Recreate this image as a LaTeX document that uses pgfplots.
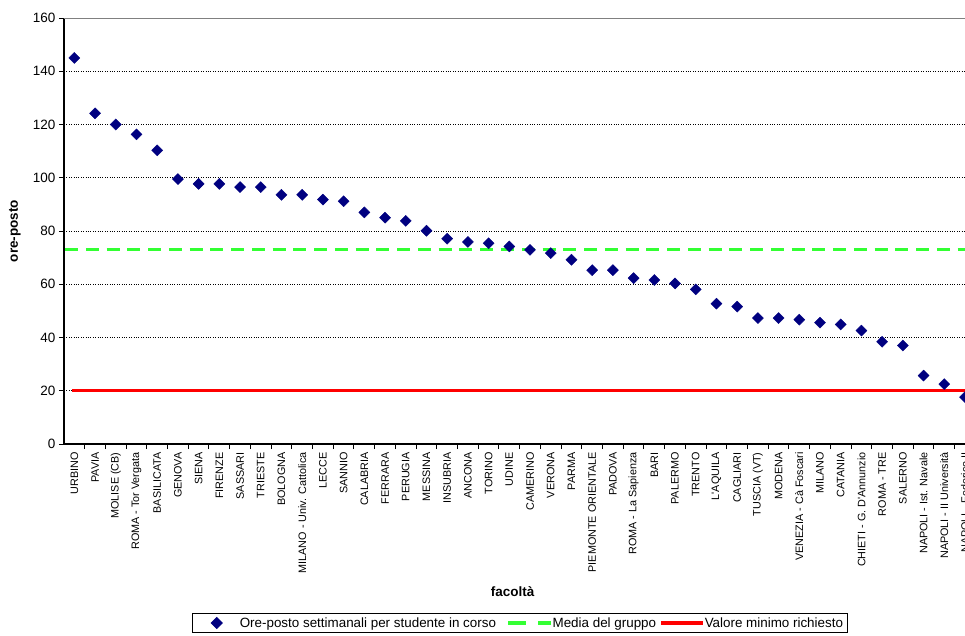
\documentclass[border=0pt]{standalone}
\usepackage{fontspec}
\setmainfont{Liberation Sans}
\usepackage{pgfplots}
\pgfplotsset{compat=1.18}
\definecolor{navy}{RGB}{0,0,128}
\definecolor{mgreen}{RGB}{51,255,51}
\definecolor{mred}{RGB}{255,0,0}
\pgfplotsset{
  markleg/.style={legend image code/.code={\path[draw=none] (-20pt,0pt) -- (23pt,0pt); \draw[##1] plot coordinates {(0pt,0pt)};}},
  greenleg/.style={legend image code/.code={\path[draw=none] (-12pt,0pt) -- (43pt,0pt); \draw[##1] (0pt,0pt) -- (43pt,0pt);}},
  redleg/.style={legend image code/.code={\path[draw=none] (-5pt,0pt) -- (42pt,0pt); \draw[##1] (0pt,0pt) -- (42pt,0pt);}},
}
\pgfplotstableread{
x y
0 145
1 124.2
2 120
3 116.3
4 110.3
5 99.5
6 97.7
7 97.7
8 96.5
9 96.5
10 93.6
11 93.6
12 91.8
13 91.2
14 87
15 85
16 83.8
17 80.1
18 77.1
19 75.9
20 75.4
21 74.2
22 72.9
23 71.7
24 69.2
25 65.3
26 65.3
27 62.3
28 61.6
29 60.3
30 58.1
31 52.7
32 51.6
33 47.3
34 47.3
35 46.7
36 45.6
37 44.9
38 42.6
39 38.4
40 37
41 25.7
42 22.5
43 17.6
}\oreposto
\begin{document}
\begin{tikzpicture}
\begin{axis}[
  scale only axis, width=901pt, height=426pt,
  xmin=-0.5, xmax=43, ymin=0, ymax=160,
  axis lines*=left,
  axis line style={line width=1.5pt, black},
  ytick={0,20,...,160},
  ymajorgrids,
  major grid style={black, dotted, line width=0.7pt},
  tick align=outside,
  major tick length=5pt,
  minor tick length=5pt,
  xtick={0,...,43},
  major x tick style={draw=none},
  minor xtick={0.5,1.5,...,42.5},
  minor x tick style={black, line width=1pt},
  y tick style={black, line width=1pt},
  /pgf/number format/assume math mode=true,
  yticklabel style={font=\fontsize{13.5}{15}\selectfont},
  xticklabel style={rotate=90, anchor=east, font=\fontsize{10.8}{12}\selectfont},
  xticklabels={URBINO,PAVIA,MOLISE (CB),ROMA - Tor Vergata,BASILICATA,GENOVA,SIENA,FIRENZE,SASSARI,TRIESTE,BOLOGNA,MILANO - Univ. Cattolica,LECCE,SANNIO,CALABRIA,FERRARA,PERUGIA,MESSINA,INSUBRIA,ANCONA,TORINO,UDINE,CAMERINO,VERONA,PARMA,PIEMONTE ORIENTALE,PADOVA,ROMA - La Sapienza,BARI,PALERMO,TRENTO,L\textquotesingle AQUILA,CAGLIARI,TUSCIA (VT),MODENA,VENEZIA - Cà Foscari,MILANO,CATANIA,CHIETI - G. D\textquotesingle Annunzio,ROMA - TRE,SALERNO,NAPOLI - Ist. Navale,NAPOLI - II Università,NAPOLI - Federico II},
  ylabel={\textbf{ore-posto}},
  ylabel style={at={(axis description cs:-0.0544,0.5)}, anchor=center, font=\fontsize{13.5}{15}\selectfont},
  xlabel={\textbf{facoltà}},
  xlabel style={at={(axis description cs:0.498,-0.347)}, anchor=center, font=\fontsize{13.5}{15}\selectfont},
  legend style={at={(axis description cs:0.506,-0.3967)}, anchor=north, legend columns=3,
    draw=black, line width=0.8pt, font=\fontsize{13.4}{14}\selectfont,
    inner sep=4pt, nodes={inner sep=0pt},
    /tikz/every odd column/.append style={column sep=0pt},
    /tikz/every even column/.append style={column sep=0pt}},
  legend cell align=left,
]
\addlegendimage{only marks, mark=square*, mark size=3.9pt, mark options={rotate=45, fill=navy, draw=navy}, markleg}
\addlegendentry{Ore-posto settimanali per studente in corso}
\addlegendimage{mgreen, line width=3.2pt, dash pattern=on 18pt off 12pt, greenleg}
\addlegendentry{Media del gruppo}
\addlegendimage{mred, line width=3.2pt, redleg}
\addlegendentry{Valore minimo richiesto}

\draw[gray, line width=1pt] (axis cs:-0.5,160) -- (axis cs:43,160);
\addplot[forget plot, mgreen, line width=3.2pt, dash pattern=on 13pt off 7.76pt] coordinates {(-0.45,73) (43,73)};
\addplot[forget plot, mred, line width=3.2pt] coordinates {(-0.1,20) (43,20)};
\addplot[forget plot, only marks, mark=square*, mark size=3.9pt, mark options={rotate=45, fill=navy, draw=navy}] table[x=x, y=y] {\oreposto};
\end{axis}
\pgfresetboundingbox
\path[use as bounding box] ([shift={(-64pt,-191pt)}]current axis.south west) rectangle ([shift={(0pt,18pt)}]current axis.north east);
\end{tikzpicture}
\end{document}
